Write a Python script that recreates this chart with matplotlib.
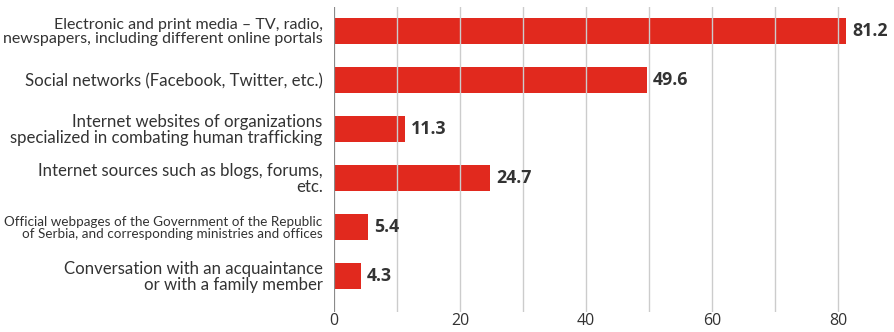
import matplotlib.pyplot as plt

# Sources of information (percent of respondents)
categories = [
    "Electronic and print media – TV, radio,\nnewspapers, including different online portals",
    "Social networks (Facebook, Twitter, etc.)",
    "Internet websites of organizations\nspecialized in combating human trafficking",
    "Internet sources such as blogs, forums,\netc.",
    "Official webpages of the Government of the Republic\nof Serbia, and corresponding ministries and offices",
    "Conversation with an acquaintance\nor with a family member",
]
values = [81.2, 49.6, 11.3, 24.7, 5.4, 4.3]
x_ticks = [0, 20, 40, 60, 80]

red = "#e1291e"
text_col = "#333333"
label_sizes = [11.5, 12.1, 12.1, 12.1, 9.7, 12.1]

plt.rcParams["font.family"] = ["Open Sans", "DejaVu Sans"]

fig = plt.figure(figsize=(8.95, 3.32), dpi=100)
ax = fig.add_axes([0.373, 0.06, 0.627, 0.919])

pos = list(range(len(values)))
ax.barh(pos, values, height=0.53, color=red, zorder=1)

# value labels at the bar ends
for y, v in zip(pos, values):
    ax.annotate(f"{v:.1f}", (v, y), xytext=(4.5, 0), textcoords="offset points",
                va="center", ha="left", fontsize=12.8, fontweight="bold",
                color=text_col, family=["Open Sans", "DejaVu Sans"])

ax.set_xlim(0, 89)
ax.set_ylim(5.74, -0.49)

# light vertical grid every 10, drawn over the bars
for gx in range(10, 90, 10):
    ax.axvline(gx, color="#cccccc", lw=1, zorder=2)
ax.axvline(0, color="#8a8a8a", lw=1.6, zorder=3)

ax.set_xticks(x_ticks)
ax.set_xticklabels([str(t) for t in x_ticks], fontsize=11.5, color=text_col)
ax.tick_params(axis="x", length=0, pad=1)

ax.set_yticks(pos)
ax.set_yticklabels(categories, color=text_col, linespacing=1.0,
                   family=["Lato", "DejaVu Sans"])
ax.tick_params(axis="y", length=0, pad=8)
for lbl, fs in zip(ax.get_yticklabels(), label_sizes):
    lbl.set_fontsize(fs)

for s in ax.spines.values():
    s.set_visible(False)

fig.savefig("out.png", dpi=100)
